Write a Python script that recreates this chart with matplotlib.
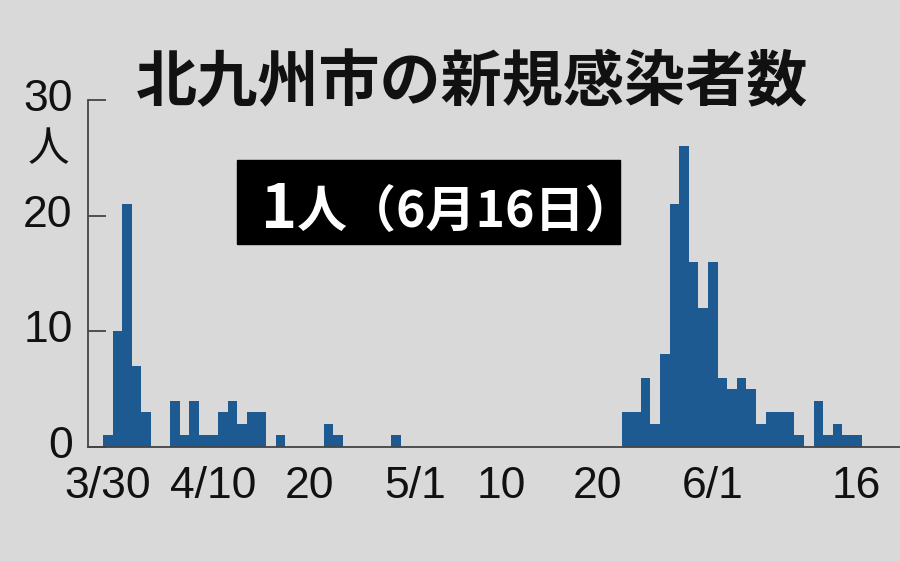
import matplotlib
matplotlib.use("Agg")
from matplotlib import pyplot as plt
import matplotlib.dates as mdates
from matplotlib.patches import Rectangle
from matplotlib.transforms import ScaledTranslation
import pandas as pd

# daily new cases, 3/30 .. 6/16
start_date = "2020-03-30"
end_date = "2020-06-16"
cases_mar30_apr29 = [1, 10, 21, 7, 3, 0, 0, 4, 1, 4, 1, 1, 3, 4, 2, 3, 3, 0, 1, 0,
                     0, 0, 0, 2, 1, 0, 0, 0, 0, 0, 1]
cases_apr30_may22 = [0] * 23
cases_may23_jun16 = [3, 3, 6, 2, 8, 21, 26, 16, 12, 16, 6, 5, 6, 5, 2, 3, 3, 3, 1, 0,
                     4, 1, 2, 1, 1]
cases = cases_mar30_apr29 + cases_apr30_may22 + cases_may23_jun16
dates = pd.date_range(start_date, end_date, freq="D")

tick_dates = ["2020-03-30", "2020-04-10", "2020-04-20", "2020-05-01",
              "2020-05-10", "2020-05-20", "2020-06-01", "2020-06-16"]
tick_labels = ["3/30", "4/10", "20", "5/1", "10", "20", "6/1", "16"]
y_ticks = [0, 10, 20, 30]

title = "北九州市の新規感染者数"
latest_num = "1"
latest_unit = "人"
latest_date = "（6月16日）"

bg = "#d9d9d9"
bar_color = "#1d5a91"
num_font = ["Liberation Sans", "DejaVu Sans"]
jp_font = ["Noto Sans CJK JP", "DejaVu Sans"]

W, H = 900, 561
fig = plt.figure(figsize=(9, 5.61), dpi=100, facecolor=bg)
ax = fig.add_axes([88 / W, 1 - 447 / H, (W - 88) / W, 347 / H])
ax.set_facecolor(bg)

ax.bar(dates, cases, width=1.0, align="center", color=bar_color, linewidth=0)

d0 = mdates.date2num(dates[0])
ax.set_xlim(d0 - 2.06, d0 + 82.5)
ax.set_ylim(0, 30)

ax.set_xticks([mdates.date2num(pd.Timestamp(d)) for d in tick_dates])
ax.set_xticklabels(tick_labels, family=num_font, fontsize=32)
ax.tick_params(axis="x", length=0, pad=14, colors="#111111")

ax.set_yticks(y_ticks)
ax.set_yticklabels([str(v) for v in y_ticks], family=num_font, fontsize=32)
ax.tick_params(axis="y", direction="in", length=13, width=1.3, pad=11,
               colors="#111111", color="#444444")
# labels sit a little above their ticks
up = ScaledTranslation(0, 0.05, fig.dpi_scale_trans)
for lab in ax.get_yticklabels():
    lab.set_transform(lab.get_transform() + up)

for s in ["top", "right"]:
    ax.spines[s].set_visible(False)
for s in ["left", "bottom"]:
    ax.spines[s].set_color("#444444")
    ax.spines[s].set_linewidth(1.3)

# unit under the top label
fig.text(48 / W, 1 - 150 / H, "人", family=jp_font, fontsize=30,
         ha="center", va="center", color="#111111")

# title
fig.text(472 / W, 1 - 83 / H, title, family=jp_font, fontsize=44,
         fontweight="bold", ha="center", va="center", color="#111111")

# black label box
fig.patches.append(Rectangle((237 / W, 1 - 244 / H), 383 / W, 84 / H,
                             transform=fig.transFigure, color="black"))
fig.text(279 / W, 1 - 228 / H, latest_num, family=jp_font, fontsize=44,
         fontweight="bold", ha="center", va="baseline", color="white")
fig.text(297 / W, 1 - 227 / H, latest_unit + latest_date, family=jp_font,
         fontsize=36, fontweight="bold", ha="left", va="baseline", color="white")

fig.savefig("out.png", dpi=100, facecolor=bg)
